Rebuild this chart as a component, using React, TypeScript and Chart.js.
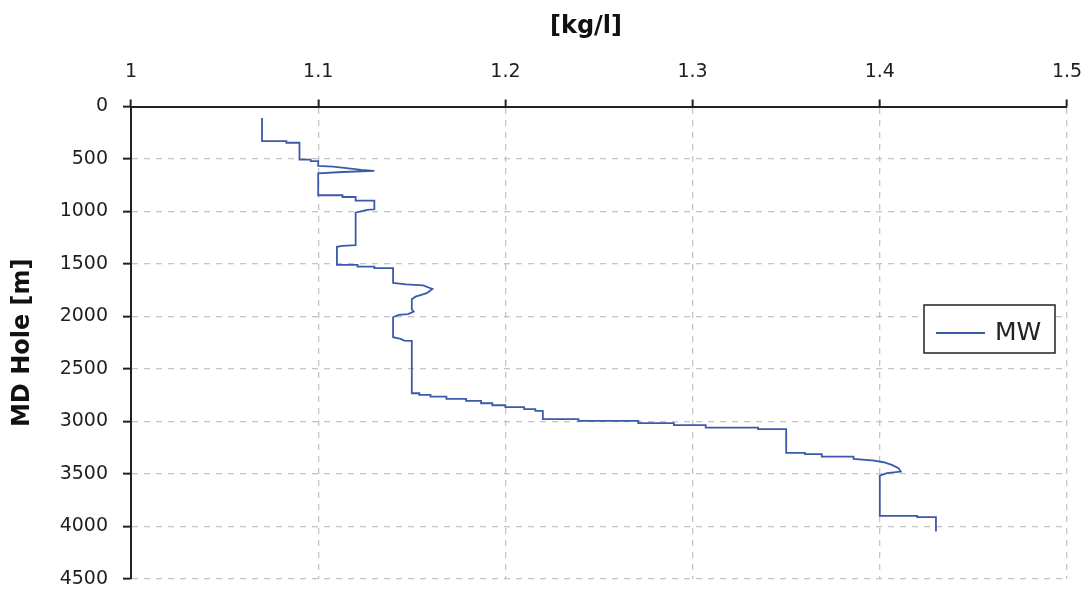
import { useEffect, useRef } from "react";
import { Chart, registerables } from "chart.js";

Chart.register(...registerables);

// Mud weight profile along the hole, listed from top to bottom.
const mudWeight = [
  1.07, 1.07, 1.083, 1.083, 1.09, 1.09, 1.096, 1.096, 1.1, 1.1,
  1.108, 1.114, 1.123, 1.13, 1.113, 1.1, 1.1, 1.113, 1.113, 1.12,
  1.12, 1.13, 1.13, 1.126, 1.12, 1.12, 1.113, 1.11, 1.11, 1.121,
  1.121, 1.13, 1.13, 1.14, 1.14, 1.147, 1.156, 1.161, 1.158, 1.152,
  1.15, 1.15, 1.151, 1.148, 1.143, 1.14, 1.14, 1.144, 1.146, 1.15,
  1.15, 1.154, 1.154, 1.16, 1.16, 1.1685, 1.1685, 1.179, 1.179, 1.187,
  1.187, 1.193, 1.193, 1.2, 1.2, 1.21, 1.21, 1.216, 1.216, 1.22,
  1.22, 1.239, 1.239, 1.271, 1.271, 1.29, 1.29, 1.307, 1.307, 1.335,
  1.335, 1.35, 1.35, 1.36, 1.36, 1.369, 1.369, 1.386, 1.386, 1.397,
  1.402, 1.4064, 1.41, 1.4112, 1.4038, 1.4, 1.4, 1.42, 1.42, 1.43,
  1.43,
];
const depthM = [
  110, 330, 330, 345, 345, 505, 505, 520, 520, 566,
  573, 585, 604, 614, 624, 636, 845, 845, 862, 862,
  896, 896, 979, 985, 1011, 1321, 1328, 1337, 1509, 1509,
  1525, 1525, 1540, 1540, 1680, 1695, 1704, 1738, 1778, 1811,
  1835, 1931, 1954, 1978, 1985, 2007, 2197, 2214, 2230, 2233,
  2731, 2731, 2747, 2747, 2763, 2763, 2785, 2785, 2804, 2804,
  2826, 2826, 2845, 2845, 2864, 2864, 2883, 2883, 2899, 2899,
  2978, 2978, 2994, 2994, 3016, 3016, 3035, 3035, 3058, 3058,
  3073, 3073, 3299, 3299, 3311, 3311, 3334, 3334, 3356, 3372,
  3388, 3413, 3444, 3477, 3492, 3515, 3899, 3899, 3911, 3911,
  4048,
];

const seriesLabel = "MW";
const xAxisTitle = "[kg/l]";
const yAxisTitle = "MD Hole [m]";
const xTickLabels = ["1", "1.1", "1.2", "1.3", "1.4", "1.5"];
const yTickLabels = ["0", "500", "1000", "1500", "2000", "2500", "3000", "3500", "4000", "4500"];

const FONT = "'DejaVu Sans', Verdana, sans-serif";
const LINE_COLOR = "#3c5aaa";

// Bold unit title above the top axis, set a little left of the axis centre.
const topAxisTitle = {
  id: "topAxisTitle",
  afterDraw(chart: any) {
    const { ctx, chartArea } = chart;
    ctx.save();
    ctx.fillStyle = "#111111";
    ctx.font = `bold 24px ${FONT}`;
    ctx.textAlign = "center";
    ctx.textBaseline = "middle";
    ctx.fillText(xAxisTitle, (chartArea.left + chartArea.right) / 2 - 13, 27);
    ctx.restore();
  },
};

// Boxed legend drawn inside the plot, to the right.
const boxedLegend = {
  id: "boxedLegend",
  afterDatasetsDraw(chart: any) {
    const { ctx, chartArea } = chart;
    const ds = chart.data.datasets[0];
    const w = 131;
    const h = 48;
    const x = chartArea.right - 143;
    const y = 305;
    ctx.save();
    ctx.fillStyle = "#ffffff";
    ctx.fillRect(x, y, w, h);
    ctx.lineWidth = 1.5;
    ctx.strokeStyle = "#222222";
    ctx.strokeRect(x, y, w, h);
    ctx.strokeStyle = ds.borderColor;
    ctx.lineWidth = 2;
    ctx.beginPath();
    ctx.moveTo(x + 12, y + 28);
    ctx.lineTo(x + 61, y + 28);
    ctx.stroke();
    ctx.fillStyle = "#222222";
    ctx.font = `25px ${FONT}`;
    ctx.textAlign = "left";
    ctx.textBaseline = "alphabetic";
    ctx.fillText(ds.label, x + 71, y + 35);
    ctx.restore();
  },
};

export default function App() {
  const canvasRef = useRef<HTMLCanvasElement | null>(null);

  useEffect(() => {
    const canvas = canvasRef.current;
    if (!canvas) return;

    const points = depthM.map((d, i) => ({ x: mudWeight[i], y: d }));

    const chart = new Chart(canvas, {
      type: "scatter",
      data: {
        datasets: [
          {
            label: seriesLabel,
            data: points,
            showLine: true,
            borderColor: LINE_COLOR,
            backgroundColor: LINE_COLOR,
            borderWidth: 1.8,
            pointRadius: 0,
            pointHoverRadius: 0,
            tension: 0,
          },
        ],
      },
      options: {
        animation: false,
        responsive: false,
        events: [],
        layout: { padding: { left: 0, top: 0, right: 22, bottom: 14 } },
        plugins: {
          legend: { display: false },
          tooltip: { enabled: false },
        },
        scales: {
          x: {
            type: "linear",
            position: "top",
            min: 1,
            max: 1.5,
            afterBuildTicks: (scale: any) => {
              scale.ticks = xTickLabels.map((t) => ({ value: parseFloat(t) }));
            },
            afterFit: (scale: any) => {
              scale.height = 106.5;
              scale.paddingLeft = 0;
              scale.paddingRight = 0;
            },
            ticks: {
              callback: (_v: any, i: number) => xTickLabels[i],
              color: "#1e1e1e",
              font: { family: FONT, size: 19 },
              padding: 16,
              maxRotation: 0,
            },
            grid: {
              color: "#c4c4c4",
              lineWidth: 1.3,
              tickColor: "#222222",
              tickWidth: 2,
              tickLength: 7,
              tickBorderDash: [],
            },
            border: { display: true, color: "#222222", width: 2, dash: [6, 6] },
            title: { display: false },
          },
          y: {
            type: "linear",
            position: "left",
            reverse: true,
            min: 0,
            max: 4500,
            afterBuildTicks: (scale: any) => {
              scale.ticks = yTickLabels.map((t) => ({ value: parseFloat(t) }));
            },
            afterFit: (scale: any) => {
              scale.width = 131;
              scale.paddingTop = 0;
              scale.paddingBottom = 0;
            },
            ticks: {
              callback: (_v: any, i: number) => yTickLabels[i],
              color: "#1e1e1e",
              font: { family: FONT, size: 19 },
              padding: 15,
            },
            grid: {
              color: "#c4c4c4",
              lineWidth: 1.3,
              tickColor: "#222222",
              tickWidth: 2,
              tickLength: 8,
              tickBorderDash: [],
            },
            border: { display: true, color: "#222222", width: 2, dash: [6, 6] },
            title: {
              display: true,
              text: yAxisTitle,
              color: "#111111",
              font: { family: FONT, size: 24, weight: "bold" },
              padding: { top: 8, bottom: 0 },
            },
          },
        },
      },
      plugins: [topAxisTitle, boxedLegend],
    } as any);

    return () => {
      chart.destroy();
    };
  }, []);

  return (
    <div style={{ position: "absolute", left: 0, top: 0, width: 1089, height: 593, background: "#ffffff" }}>
      <canvas ref={canvasRef} width={1089} height={593} style={{ display: "block" }} />
    </div>
  );
}
